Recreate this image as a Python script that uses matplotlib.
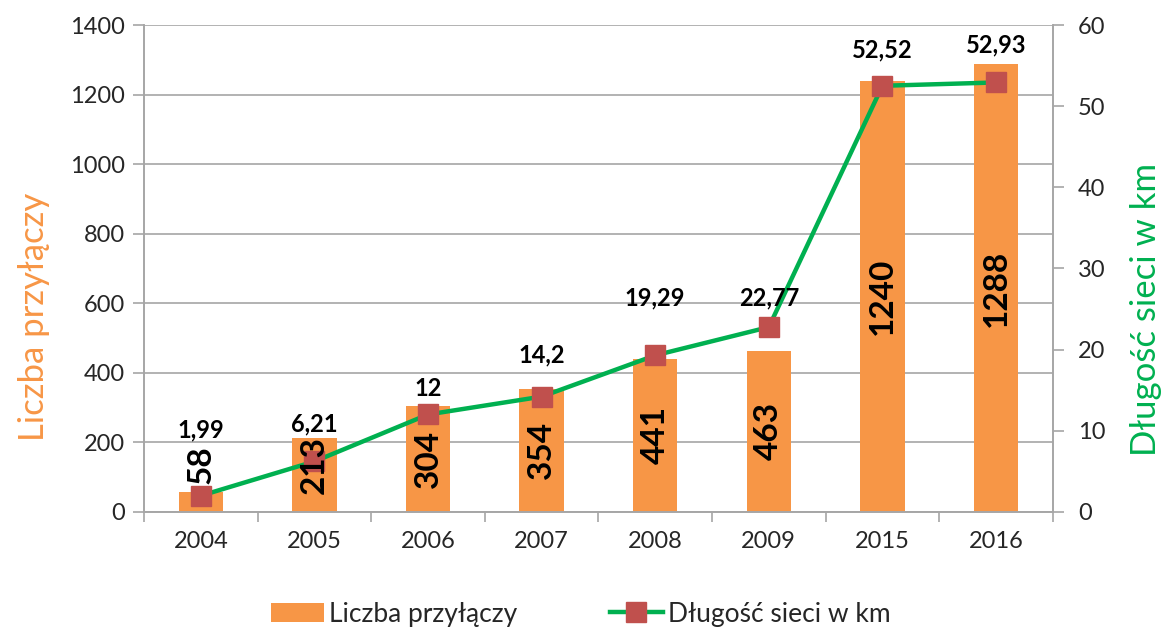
import numpy as np
import matplotlib
matplotlib.use('Agg')
import matplotlib.pyplot as plt
from matplotlib.patches import Patch
from matplotlib.lines import Line2D

plt.rcParams['font.family'] = ['Lato', 'DejaVu Sans']

years = ['2004', '2005', '2006', '2007', '2008', '2009', '2015', '2016']
connections = [58, 213, 304, 354, 441, 463, 1240, 1288]
network_km = [1.99, 6.21, 12, 14.2, 19.29, 22.77, 52.52, 52.93]
km_labels = ['1,99', '6,21', '12', '14,2', '19,29', '22,77', '52,52', '52,93']

# label offsets above markers (points), adjusted by hand like the original
km_offsets = [47, 27, 19, 30, 41, 21, 26, 27]

orange = '#F79646'
green = '#00B050'
red = '#C0504D'
grid_col = '#A6A6A6'
text_col = '#262626'

fig = plt.figure(figsize=(11.62, 6.28), dpi=100)
ax = fig.add_axes([0.124, 0.185, 0.782, 0.775])
ax2 = ax.twinx()

x = np.arange(len(years))
ax.bar(x, connections, width=0.39, color=orange, zorder=2)
ax.set_ylim(0, 1400)
ax.set_yticks(np.arange(0, 1401, 200))
ax.set_xlim(-0.5, len(years) - 0.5)
ax.set_xticks(x)
ax.set_xticklabels(years)
ax.set_xticks(np.arange(-0.5, len(years)), minor=True)
ax.tick_params(axis='x', which='major', length=0, pad=14, labelsize=17, labelcolor=text_col)
ax.tick_params(axis='x', which='minor', length=7, color=grid_col, width=1.2)
ax.tick_params(axis='y', length=8, color=grid_col, width=1.2, labelsize=17, labelcolor=text_col, pad=6)
ax.grid(axis='y', color=grid_col, linewidth=1.2, zorder=0)
ax.set_axisbelow(True)
for s in ['left', 'bottom', 'right']:
    ax.spines[s].set_color(grid_col)
    ax.spines[s].set_linewidth(1.2)
ax.spines['top'].set_visible(False)
ax.set_ylabel('Liczba przyłączy', color=orange, fontsize=25)
ax.yaxis.set_label_coords(-0.103, 0.40)

ax2.plot(x, network_km, color=green, linewidth=3.2, marker='s', markersize=15,
         markerfacecolor=red, markeredgecolor=red, zorder=3)
ax2.set_ylim(0, 60)
ax2.set_yticks(np.arange(0, 61, 10))
ax2.tick_params(axis='y', length=8, color=grid_col, width=1.2, labelsize=17, labelcolor=text_col, pad=10)
for s in ['left', 'bottom', 'right']:
    ax2.spines[s].set_color(grid_col)
    ax2.spines[s].set_linewidth(1.2)
ax2.spines['top'].set_visible(False)
ax2.set_ylabel('Długość sieci w km', color=green, fontsize=25)
ax2.yaxis.set_label_coords(1.085, 0.415)

# bar value labels, drawn on top of the line
for xi, v in zip(x, connections):
    ax2.text(xi, max(v / 2, 135), str(v), transform=ax.transData, rotation=90,
             ha='center', va='center', fontsize=24, fontweight='bold', color='black', zorder=5)

for xi, v, lab, off in zip(x, network_km, km_labels, km_offsets):
    ax2.annotate(lab, (xi, v), xytext=(0, off), textcoords='offset points',
                 ha='center', va='center', fontsize=17, fontweight='bold', color='black', zorder=5)

handles = [Patch(facecolor=orange, edgecolor='none'),
           Line2D([0], [0], color=green, linewidth=3.2, marker='s', markersize=15,
                  markerfacecolor=red, markeredgecolor=red)]
fig.legend(handles, ['Liczba przyłączy', 'Długość sieci w km'], loc='center',
           bbox_to_anchor=(0.5, 0.022), ncol=2, frameon=False, fontsize=19,
           columnspacing=3.5, handlelength=2.0, handletextpad=0.2, labelcolor=text_col)

fig.savefig('out.png', dpi=100)
